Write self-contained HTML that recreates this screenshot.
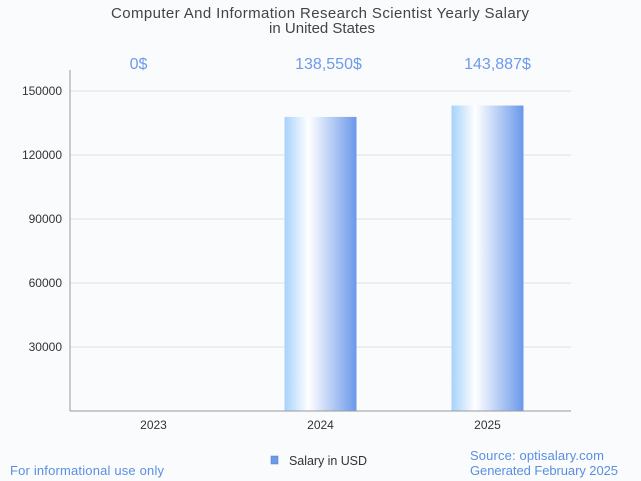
<!DOCTYPE html>
<html><head><meta charset="utf-8"><style>
body{margin:0;background:#f9fbfd;}
svg{display:block;font-family:"Liberation Sans",Roboto,sans-serif;}
</style></head><body>
<svg id="c" width="641" height="481">
<defs><linearGradient id="g" x1="0" x2="1" y1="0" y2="0">
<stop offset="0" stop-color="#a6d2fb"/><stop offset="0.33" stop-color="#ffffff"/><stop offset="1" stop-color="#6a98ea"/></linearGradient></defs>
<rect width="641" height="481" fill="#f9fbfd"/>
<text x="320" y="18" text-anchor="middle" font-size="15" textLength="418" fill="#444">Computer And Information Research Scientist Yearly Salary</text>
<text x="322" y="33" text-anchor="middle" font-size="15" fill="#444">in United States</text>
<g id="grid"></g><g id="bars"></g><g id="labels"></g>
<line x1="70" y1="70" x2="70" y2="411" stroke="#999"/>
<line x1="70" y1="411" x2="571" y2="411" stroke="#999"/>
<rect x="271" y="456" width="7" height="8" fill="#6a9ae8" stroke="#4a7ac8" stroke-width="0.5"/>
<text x="289" y="465" font-size="12.5" textLength="78" fill="#333">Salary in USD</text>
<text x="10" y="475" font-size="13" textLength="154" fill="#5b8fe0">For informational use only</text>
<text x="470" y="460" font-size="13" textLength="134" fill="#5b8fe0">Source: optisalary.com</text>
<text x="470" y="475" font-size="13" textLength="148" fill="#5b8fe0">Generated February 2025</text>
</svg>
<script>
const categories=["2023","2024","2025"];
const values=[0,138550,143887];
const valueLabels=["0$","138,550$","143,887$"];
const yTicks=[30000,60000,90000,120000,150000];
const labelShift=[-15,8,10];
const NS="http://www.w3.org/2000/svg";
const x0=70,x1=571,y0=411,band=(x1-x0)/3;
const y=v=>y0-v*64/30000;
const xc=i=>x0+band*(i+0.5);
function mk(t,a,p){const e=document.createElementNS(NS,t);for(const k in a)e.setAttribute(k,a[k]);document.getElementById(p).appendChild(e);return e;}
yTicks.forEach(v=>{
 const l=mk("line",{x1:x0,x2:x1,y1:y(v),y2:y(v),stroke:"#e2e2e2"},"grid");
 
 
 const t=mk("text",{x:62,y:y(v)+4,"text-anchor":"end","font-size":12,fill:"#333"},"grid");t.textContent=v;
 
 
});
categories.forEach((c,i)=>{
 const b=mk("rect",{x:xc(i)-36,y:y(values[i])+1.5,width:72,height:Math.max(0,y0-y(values[i])-1.5),fill:"url(#g)"},"bars");
 
 
 const t=mk("text",{x:xc(i),y:429,"text-anchor":"middle","font-size":12,fill:"#333"},"labels");t.textContent=c;
 
 
 const v=mk("text",{x:xc(i)+labelShift[i],y:69,"text-anchor":"middle","font-size":16,fill:"#6f9ae8"},"labels");v.textContent=valueLabels[i];
 
 
});
</script>
</body></html>
